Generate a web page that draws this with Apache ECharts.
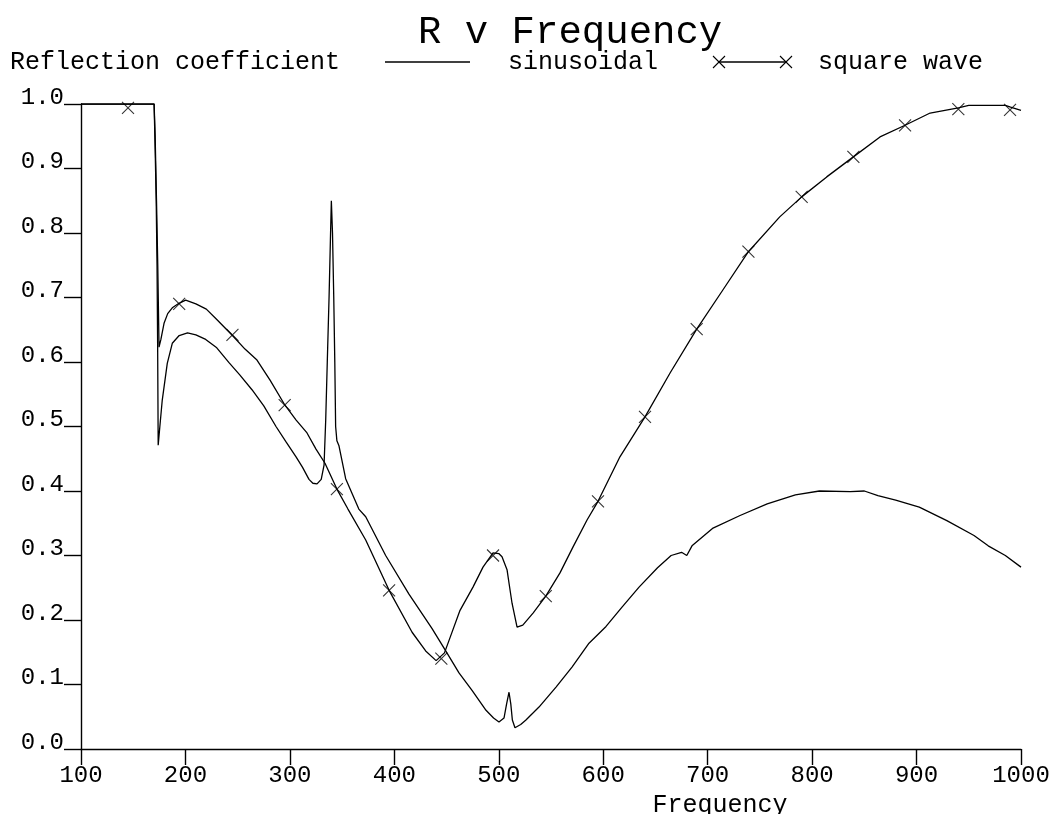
<!DOCTYPE html>
<html>
<head>
<meta charset="utf-8">
<script src="https://cdn.jsdelivr.net/npm/echarts@6/dist/echarts.min.js"></script>
<style>
html,body{margin:0;padding:0;background:#fff;}
#chart{width:1054px;height:814px;}
</style>
</head>
<body>
<div id="chart"></div>
<script>
// ---- data ----
const xTicks = [100, 200, 300, 400, 500, 600, 700, 800, 900, 1000];
const yTicks = [0.0, 0.1, 0.2, 0.3, 0.4, 0.5, 0.6, 0.7, 0.8, 0.9, 1.0];

// sinusoidal excitation
const sinF = [100, 170, 171, 172, 172.8, 173.4, 173.9, 175.5, 177.8, 182.6, 187.4, 194, 202, 210, 219.4, 230, 241.7, 252, 263.7, 275, 286.7, 296, 305.9, 312, 318.3, 322, 326, 330, 332.7, 334.3, 335.8, 337.5, 338.8, 339.7, 340.8, 342, 343, 343.8, 345, 347, 353.4, 366, 372.6, 391.7, 414, 436, 449.2, 461.9, 474.4, 487.8, 495, 500.2, 505, 507.5, 509.8, 511.5, 513, 515.5, 521, 526, 538.5, 554.8, 570.1, 586.4, 602.7, 618, 634.3, 652, 665, 675, 680, 685, 704.6, 731, 757, 784, 807, 836.6, 850, 863, 880, 902.6, 929, 955, 968.6, 985, 1000];
const sinR = [1.0, 1.0, 0.93, 0.85, 0.75, 0.62, 0.471, 0.5, 0.541, 0.598, 0.629, 0.641, 0.645, 0.642, 0.635, 0.622, 0.599, 0.58, 0.557, 0.532, 0.5, 0.477, 0.453, 0.437, 0.418, 0.412, 0.411, 0.418, 0.44, 0.51, 0.6, 0.7, 0.79, 0.85, 0.8, 0.7, 0.6, 0.5, 0.478, 0.47, 0.419, 0.372, 0.36, 0.3, 0.24, 0.187, 0.152, 0.118, 0.091, 0.06, 0.048, 0.042, 0.048, 0.07, 0.088, 0.07, 0.045, 0.033, 0.038, 0.045, 0.065, 0.096, 0.127, 0.164, 0.19, 0.22, 0.251, 0.281, 0.3, 0.305, 0.3, 0.315, 0.342, 0.362, 0.38, 0.394, 0.4, 0.399, 0.4, 0.393, 0.386, 0.375, 0.354, 0.331, 0.315, 0.3, 0.282];

// square wave excitation
const sqF = [100, 170, 171, 172.3, 173.5, 174.7, 176.5, 179.5, 183, 187.4, 193.8, 200.2, 210, 220, 230, 245, 257, 268.5, 281, 295.3, 306, 316.4, 325, 333.6, 345, 355.6, 372.6, 395, 417, 430, 440, 448, 455, 462.9, 475.3, 484.9, 494.5, 500, 503.1, 507.9, 510, 512.7, 517.5, 523, 533, 545, 558.6, 571, 584.5, 595, 616, 640, 664, 689.5, 714.7, 739, 769, 790, 814, 839.5, 865, 889, 913, 940, 950, 985, 990, 1000];
const sqR = [1.0, 1.0, 0.95, 0.85, 0.75, 0.623, 0.635, 0.66, 0.675, 0.684, 0.691, 0.696, 0.69, 0.682, 0.666, 0.641, 0.62, 0.603, 0.572, 0.533, 0.51, 0.49, 0.465, 0.443, 0.403, 0.372, 0.324, 0.246, 0.181, 0.152, 0.137, 0.149, 0.18, 0.215, 0.251, 0.282, 0.304, 0.303, 0.298, 0.278, 0.255, 0.226, 0.189, 0.192, 0.211, 0.237, 0.273, 0.313, 0.355, 0.384, 0.453, 0.515, 0.583, 0.651, 0.712, 0.771, 0.825, 0.856, 0.887, 0.918, 0.949, 0.967, 0.986, 0.994, 0.998, 0.998, 0.995, 0.99];

// cross markers on the square-wave curve
const sqMarkF = [145, 194, 245, 295, 345, 395, 445, 494.5, 545, 595, 640, 689.5, 739, 790, 839.5, 889, 940, 989.5];
const sqMarkR = [0.994, 0.69, 0.642, 0.533, 0.403, 0.246, 0.14, 0.30, 0.237, 0.384, 0.515, 0.651, 0.771, 0.856, 0.918, 0.967, 0.992, 0.991];

const titleText = 'R v Frequency';
const yName = 'Reflection coefficient';
const xName = 'Frequency';
const seriesNames = ['sinusoidal', 'square wave'];

// ---- chart ----
const FONT = '"Liberation Mono", "DejaVu Sans Mono", monospace';
const zip = (a, b) => a.map((v, i) => [v, b[i]]);
const CROSS = 'path://M0,0L10,10M0,10L10,0';

const chart = echarts.init(document.getElementById('chart'), null, {renderer: 'canvas'});
const legendY = 62;
const option = {
  animation: false,
  backgroundColor: '#ffffff',
  title: {
    text: titleText,
    left: 413,
    top: 8,
    textStyle: {fontFamily: FONT, fontSize: 39, fontWeight: 'normal', color: '#000'}
  },
  grid: {left: 81, right: 33, top: 104, bottom: 65, containLabel: false, outerBoundsMode: 'none'},
  xAxis: {
    type: 'value', min: xTicks[0], max: xTicks[xTicks.length - 1], interval: 100,
    name: xName, nameLocation: 'middle', nameGap: 42,
    nameTextStyle: {fontFamily: FONT, fontSize: 25, color: '#000', align: 'center', padding: [0, 0, 0, 338]},
    axisLine: {lineStyle: {color: '#000', width: 1.4}},
    axisTick: {length: 16, lineStyle: {color: '#000', width: 1.4}},
    axisLabel: {fontFamily: FONT, fontSize: 24, color: '#000', margin: 15, formatter: v => String(v)},
    splitLine: {show: false}
  },
  yAxis: {
    type: 'value', min: yTicks[0], max: yTicks[yTicks.length - 1], interval: 0.1,
    axisLine: {lineStyle: {color: '#000', width: 1.4}},
    axisTick: {length: 17, lineStyle: {color: '#000', width: 1.4}},
    axisLabel: {fontFamily: FONT, fontSize: 24, color: '#000', margin: 17, verticalAlign: 'bottom', lineHeight: 13,
      formatter: v => v.toFixed(1)},
    splitLine: {show: false}
  },
  graphic: [
    {type: 'text', x: 10, y: legendY, style: {text: yName, fontFamily: FONT, fontSize: 25, fill: '#000', verticalAlign: 'middle'}},
    {type: 'line', shape: {x1: 385, y1: legendY, x2: 470, y2: legendY}, style: {stroke: '#000', lineWidth: 1.3}},
    {type: 'text', x: 508, y: legendY, style: {text: seriesNames[0], fontFamily: FONT, fontSize: 25, fill: '#000', verticalAlign: 'middle'}},
    {type: 'line', shape: {x1: 719, y1: legendY, x2: 786, y2: legendY}, style: {stroke: '#000', lineWidth: 1.3}},
    {type: 'polyline', shape: {points: [[713, legendY - 6], [725, legendY + 6]]}, style: {stroke: '#000', lineWidth: 1.1, fill: null}},
    {type: 'polyline', shape: {points: [[713, legendY + 6], [725, legendY - 6]]}, style: {stroke: '#000', lineWidth: 1.1, fill: null}},
    {type: 'polyline', shape: {points: [[780, legendY - 6], [792, legendY + 6]]}, style: {stroke: '#000', lineWidth: 1.1, fill: null}},
    {type: 'polyline', shape: {points: [[780, legendY + 6], [792, legendY - 6]]}, style: {stroke: '#000', lineWidth: 1.1, fill: null}},
    {type: 'text', x: 818, y: legendY, style: {text: seriesNames[1], fontFamily: FONT, fontSize: 25, fill: '#000', verticalAlign: 'middle'}}
  ],
  series: [
    {
      name: seriesNames[0], type: 'line', data: zip(sinF, sinR),
      showSymbol: false, symbol: 'none', smooth: false,
      lineStyle: {color: '#000', width: 1.3}, itemStyle: {color: '#000'}
    },
    {
      name: seriesNames[1], type: 'line', data: zip(sqF, sqR),
      showSymbol: false, symbol: 'none', smooth: false,
      lineStyle: {color: '#000', width: 1.3}, itemStyle: {color: '#000'}
    },
    {
      name: seriesNames[1] + ' markers', type: 'scatter', data: zip(sqMarkF, sqMarkR),
      symbol: CROSS, symbolSize: 12,
      itemStyle: {color: 'none', borderColor: '#000', borderWidth: 1.1}
    }
  ]
};
chart.setOption(option);
</script>
</body>
</html>
